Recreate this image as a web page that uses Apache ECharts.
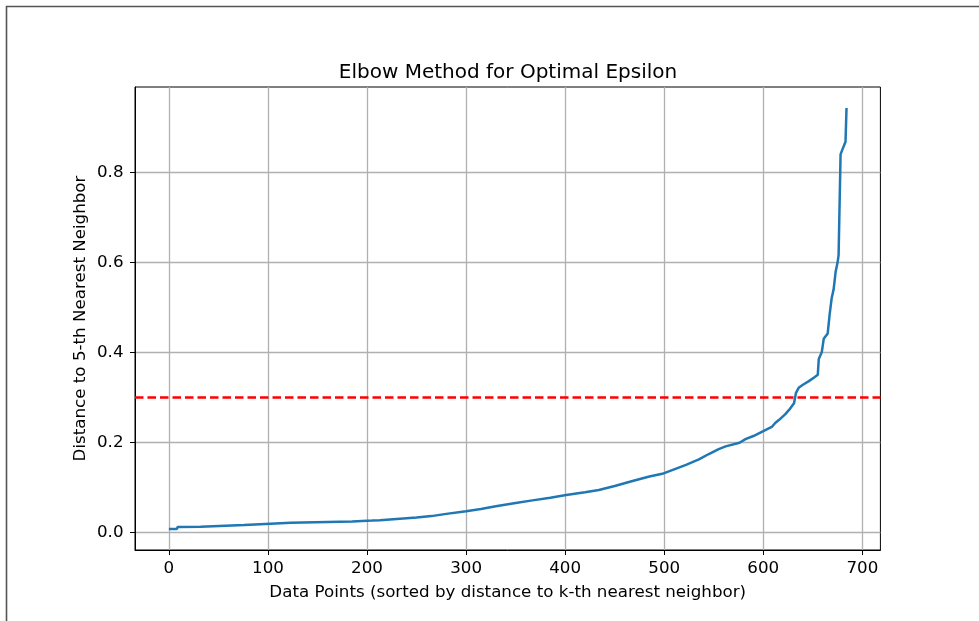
<!DOCTYPE html>
<html>
<head>
<meta charset="utf-8">
<script src="https://cdn.jsdelivr.net/npm/echarts@6/dist/echarts.min.js"></script>
<style>
  html, body { margin: 0; padding: 0; background: #fff; }
  #chart { width: 979px; height: 621px; }
</style>
</head>
<body>
<div id="chart"></div>
<script>
// Sorted k-distance curve: point index and distance
const pointIndex = [0, 8, 9, 32, 33, 76, 77, 92, 93, 123, 124, 185, 186, 205, 206, 213, 214,
  250, 265, 280, 300, 315, 330, 350, 367, 385, 401, 420, 434, 450, 468, 485, 498, 510, 522,
  535, 545, 555, 562, 576, 582, 590, 599, 609, 612, 616, 622, 626, 631, 633, 636, 640, 646,
  652, 655, 656, 659, 661, 665, 667, 669, 671, 673, 675, 676, 678, 679, 683, 684];
const kDistance = [0.0073, 0.0075, 0.012, 0.0125, 0.015, 0.016, 0.018, 0.018, 0.021, 0.021,
  0.022, 0.024, 0.025, 0.026, 0.027, 0.027, 0.030,
  0.033, 0.036, 0.041, 0.047, 0.052, 0.058, 0.065, 0.071, 0.077, 0.083, 0.089, 0.094, 0.103,
  0.114, 0.124, 0.130, 0.140, 0.150,
  0.162, 0.174, 0.185, 0.191, 0.199, 0.207, 0.214, 0.224, 0.235, 0.243, 0.250, 0.262, 0.272,
  0.287, 0.310, 0.322, 0.328, 0.336,
  0.345, 0.350, 0.385, 0.400, 0.430, 0.442, 0.485, 0.520, 0.540, 0.579, 0.600, 0.616, 0.840,
  0.846, 0.868, 0.943];
const epsilonThreshold = 0.3;
const xTicks = [0, 100, 200, 300, 400, 500, 600, 700];
const yTicks = [0, 0.2, 0.4, 0.6, 0.8];

const titleText = 'Elbow Method for Optimal Epsilon';
const xTitle = 'Data Points (sorted by distance to k-th nearest neighbor)';
const yTitle = 'Distance to 5-th Nearest Neighbor';

const seriesData = pointIndex.map((x, i) => [x, kDistance[i]]);

const FONT = 'DejaVu Sans';
const chart = echarts.init(document.getElementById('chart'), null, { renderer: 'canvas' });

chart.setOption({
  animation: false,
  backgroundColor: '#fff',
  title: {
    text: titleText,
    left: 503,
    top: 58,
    textAlign: 'center',
    textStyle: { fontFamily: FONT, fontSize: 20, fontWeight: 'normal', color: '#000' }
  },
  grid: {
    left: 135, top: 87, width: 745.4, height: 463,
    show: true, borderColor: '#000', borderWidth: 1, backgroundColor: 'transparent',
    containLabel: false
  },
  xAxis: {
    type: 'value',
    min: -34.2,
    max: 718.2,
    name: xTitle,
    nameLocation: 'middle',
    nameGap: 34,
    nameTextStyle: { fontFamily: FONT, fontSize: 16.7, color: '#000' },
    axisLine: { show: true, onZero: false, lineStyle: { color: '#000', width: 1 } },
    axisTick: { show: true, length: 5, customValues: xTicks, lineStyle: { color: '#000', width: 1 } },
    axisLabel: {
      customValues: xTicks, margin: 10.5,
      fontFamily: FONT, fontSize: 16.7, color: '#000',
      formatter: v => String(v)
    },
    splitLine: { show: true, lineStyle: { color: '#b0b0b0', width: 1.3 } }
  },
  yAxis: {
    type: 'value',
    min: -0.0393,
    max: 0.9896,
    name: yTitle,
    nameLocation: 'middle',
    nameGap: 46,
    nameMoveOverlap: false,
    nameTextStyle: { fontFamily: FONT, fontSize: 16.7, color: '#000' },
    axisLine: { show: true, onZero: false, lineStyle: { color: '#000', width: 1 } },
    axisTick: { show: true, length: 5, customValues: yTicks, lineStyle: { color: '#000', width: 1 } },
    axisLabel: {
      customValues: yTicks, margin: 11.5,
      fontFamily: FONT, fontSize: 16.7, color: '#000',
      formatter: v => v.toFixed(1)
    },
    splitLine: { show: true, lineStyle: { color: '#b0b0b0', width: 1.3 } }
  },
  series: [{
    type: 'line',
    data: seriesData,
    showSymbol: false,
    symbol: 'none',
    lineStyle: { color: '#1f77b4', width: 2.5 },
    itemStyle: { color: '#1f77b4' },
    z: 3,
    markLine: {
      silent: true,
      symbol: ['none', 'none'],
      label: { show: false },
      lineStyle: { color: '#ff0000', width: 2.5, type: [8.5, 4] },
      data: [{ yAxis: epsilonThreshold }]
    }
  }],
  graphic: [{
    type: 'polyline',
    silent: true,
    shape: { points: [[6.5, 640], [6.5, 6.5], [990, 6.5]] },
    style: { stroke: '#555', lineWidth: 1.6, fill: null }
  }]
});
</script>
</body>
</html>
